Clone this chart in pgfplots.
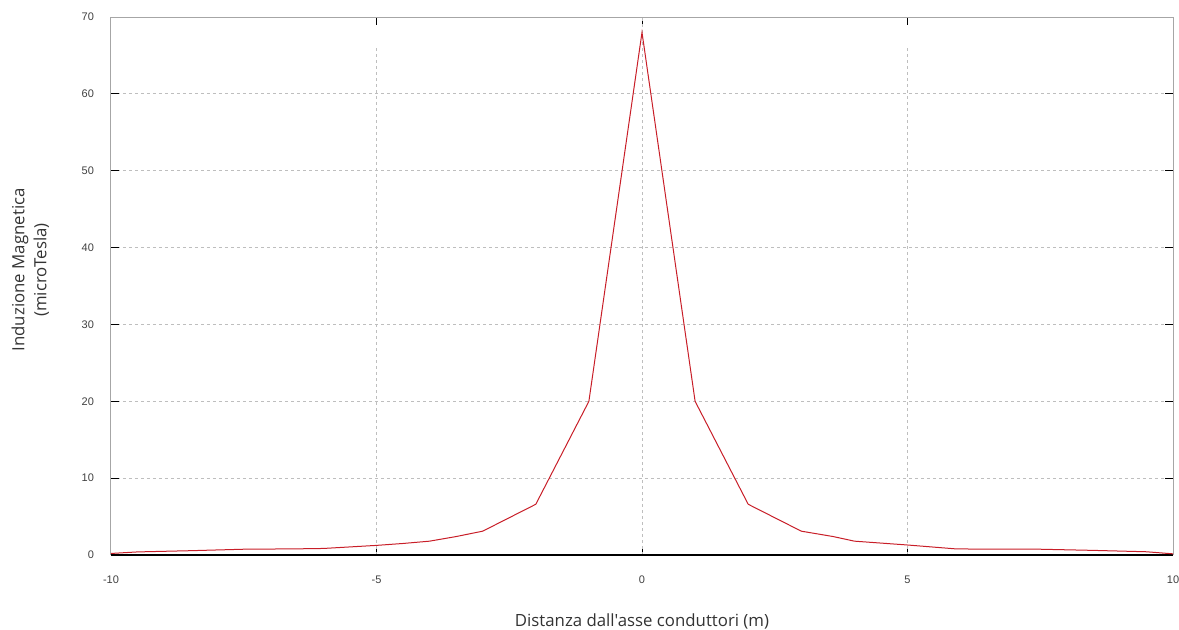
\documentclass[border=0pt]{standalone}
\usepackage{pgfplots}
\pgfplotsset{compat=1.18}
\usepackage{fontspec}
\setmainfont{Liberation Sans}
\newfontfamily\labelfont{Open Sans}
\definecolor{curve}{RGB}{200,30,40}
\definecolor{gridc}{RGB}{190,190,190}
\begin{document}
\begin{tikzpicture}
\useasboundingbox (-55.5pt,-37.5pt) rectangle (534pt,277.5pt);
\begin{axis}[
  at={(0,0)}, anchor=south west,
  width=531pt, height=269pt, scale only axis,
  xmin=-10, xmax=10, ymin=0, ymax=70,
  xtick={-10,-5,0,5,10},
  ytick={0,10,20,30,40,50,60,70},
  tick align=inside,
  major tick length=4pt,
  tick style={black, line width=0.5pt},
  axis line style={gray!70, line width=0.5pt},
  ymajorgrids=true,
  major grid style={gridc, line width=0.4pt, dash pattern=on 1.5pt off 1.5pt},
  /pgf/number format/assume math mode=true,
  ticklabel style={font=\fontsize{5.5}{6}\selectfont, text=black!75},
  yticklabel style={xshift=-5pt},
  xticklabel style={yshift=-7pt},
  xlabel={Distanza dall'asse conduttori (m)},
  xlabel style={font=\labelfont\fontsize{8.4}{9}\selectfont, text=black!80, yshift=-8pt},
  ylabel={Induzione Magnetica\\(microTesla)},
  ylabel style={font=\labelfont\fontsize{8.4}{11}\selectfont, text=black!80, align=center, yshift=9.5pt, at={(ticklabel cs:0.53)}},
  clip=false,
]
\draw[gridc, line width=0.4pt, dash pattern=on 1.5pt off 1.5pt] (axis cs:-5,0) -- (axis cs:-5,66);
\draw[gridc, line width=0.4pt, dash pattern=on 1.5pt off 1.5pt] (axis cs:0,0) -- (axis cs:0,70);
\draw[gridc, line width=0.4pt, dash pattern=on 1.5pt off 1.5pt] (axis cs:5,0) -- (axis cs:5,66);
\draw[black, line width=0.6pt] (rel axis cs:0,0) -- (rel axis cs:1,0);
\addplot[curve, line width=0.5pt] coordinates {
(-10,0.2) (-9.5,0.4) (-8.5,0.56) (-7.5,0.75) (-6.5,0.8) (-6,0.85) (-5,1.25) (-4.5,1.5) (-4,1.8) (-3.5,2.4) (-3,3.1) (-2,6.6) (-1,20.0) (-0.95,22.4) (0,68)
(0.95,22.4) (1,20.0) (2,6.6) (3,3.1) (3.6,2.4) (4,1.8) (4.5,1.55) (5,1.3) (5.9,0.8) (6.5,0.75) (7.5,0.75) (8.5,0.6) (9.5,0.42) (10,0.15)
};
\end{axis}
\end{tikzpicture}
\end{document}
